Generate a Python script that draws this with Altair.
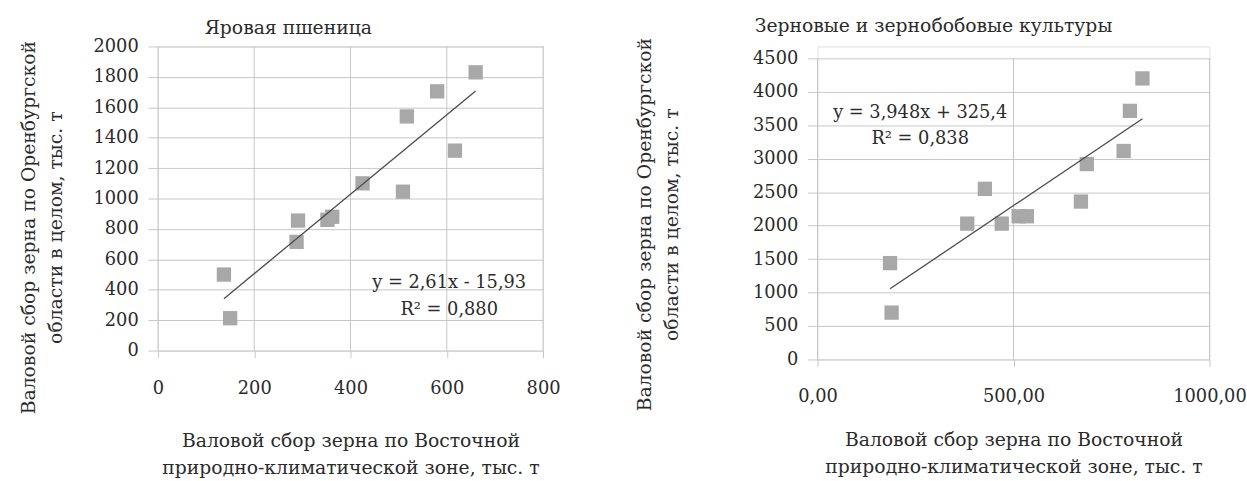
import altair as alt
import pandas as pd

FONT = "DejaVu Serif"
TEXT = "#2b2b2b"
GRID = "#c6c6c6"

# --- Яровая пшеница (spring wheat) ---
wheat_east = [137, 150, 288, 291, 352, 362, 425, 509, 517, 580, 617, 660]
wheat_total = [500, 213, 715, 855, 860, 880, 1100, 1045, 1540, 1705, 1315, 1830]
wheat_slope, wheat_icept = 2.61, -15.93
wheat_eq = ["y = 2,61x - 15,93", "R² = 0,880"]

# --- Зерновые и зернобобовые культуры (grain and legumes) ---
grain_east = [185, 189, 382, 427, 470, 513, 534, 672, 687, 781, 797, 829]
grain_total = [1440, 700, 2030, 2550, 2030, 2140, 2140, 2360, 2920, 3115, 3715, 4200]
grain_slope, grain_icept = 3.948, 325.4
grain_eq = ["y = 3,948x + 325,4", "R² = 0,838"]

x_title = ["Валовой сбор зерна по Восточной", "природно-климатической зоне, тыс. т"]
y_title = ["Валовой сбор зерна по Оренбургской", "области в целом, тыс. т"]


def panel(title, title_dx, title_off, east, total, slope, icept, eq, eq_x, eq_y,
          x_max, x_step, y_max, y_step, x_fmt, w, h, top_gap, xtitle_pad,
          ytitle_x, ytitle_y):
    pts = pd.DataFrame({"x": east, "y": total})
    lo, hi = min(east), max(east)
    trend = pd.DataFrame({"x": [lo, hi], "y": [slope * lo + icept, slope * hi + icept]})
    notes = pd.DataFrame({"x": [eq_x, eq_x], "y": eq_y, "t": eq})
    x_vals = list(range(0, x_max + 1, x_step))
    y_vals = list(range(0, y_max + 1, y_step))
    vgrid = pd.DataFrame({"x": x_vals, "y0": [0] * len(x_vals), "y1": [y_max] * len(x_vals)})

    full_h = h + top_gap
    xs = alt.Scale(domain=[0, x_max], nice=False, zero=True)
    # the plot may start a few pixels below the top of its cell
    ys = alt.Scale(domain=[0, y_max], nice=False, zero=True, range=[full_h, top_gap])
    xa = alt.Axis(
        values=x_vals, tickCount=len(x_vals), labelExpr=x_fmt, title=x_title,
        grid=False, domain=False, ticks=True, tickColor=GRID, tickSize=7,
        labelPadding=22, labelFont=FONT, labelFontSize=18, labelColor=TEXT,
        labelOverlap=False, labelFlush=False,
        titleFont=FONT, titleFontSize=19, titleFontWeight="normal", titleColor=TEXT,
        titlePadding=xtitle_pad, titleLineHeight=27,
    )
    ya = alt.Axis(
        values=y_vals, tickCount=len(y_vals), format="d", title=y_title,
        grid=True, gridColor=GRID, domain=False, ticks=True, tickColor=GRID, tickSize=10,
        labelPadding=10, labelFont=FONT, labelFontSize=18, labelColor=TEXT,
        labelOverlap=False, labelFlush=False,
        titleFont=FONT, titleFontSize=19, titleFontWeight="normal", titleColor=TEXT,
        titleAngle=-90, titleAlign="center", titleBaseline="top", titleLineHeight=27,
        titleX=ytitle_x, titleY=ytitle_y,
    )

    grid_v = alt.Chart(vgrid).mark_rule(color=GRID, strokeWidth=1).encode(
        x=alt.X("x:Q", scale=xs, axis=xa),
        y=alt.Y("y0:Q", scale=ys, axis=ya),
        y2="y1:Q",
    )
    squares = alt.Chart(pts).mark_square(size=210, color="#a8a8a8", opacity=1).encode(
        x=alt.X("x:Q", scale=xs), y=alt.Y("y:Q", scale=ys)
    )
    line = alt.Chart(trend).mark_line(color="#4a4a4a", strokeWidth=1.3).encode(
        x=alt.X("x:Q", scale=xs), y=alt.Y("y:Q", scale=ys)
    )
    text = alt.Chart(notes).mark_text(font=FONT, fontSize=18, color=TEXT, align="center").encode(
        x=alt.X("x:Q", scale=xs), y=alt.Y("y:Q", scale=ys), text="t:N"
    )
    return (grid_v + squares + line + text).properties(
        width=w, height=full_h,
        title=alt.TitleParams(title, font=FONT, fontSize=19, fontWeight="normal",
                              color=TEXT, anchor="middle", frame="group",
                              dx=title_dx, offset=title_off),
    )


left = panel("Яровая пшеница", -63, 0, wheat_east, wheat_total, wheat_slope, wheat_icept,
             wheat_eq, 605, [441, 265], 800, 200, 2000, 200, "format(datum.value, 'd')",
             390, 308, 0, 35, -140, 183)

right = panel("Зерновые и зернобобовые культуры", -81, 2, grain_east, grain_total,
              grain_slope, grain_icept, grain_eq, 262, [3688, 3296], 1000, 500, 4500, 500,
              "replace(format(datum.value, '.2f'), '.', ',')",
              397, 305, 12, 25, -184, 180)

chart = alt.hconcat(left, right, spacing=75).properties(
    padding={"left": 19, "top": 13, "right": 0, "bottom": 0}
).configure_view(stroke=None).configure(background="white")

chart.save("out.html", embed_options={"renderer": "svg", "actions": False})
